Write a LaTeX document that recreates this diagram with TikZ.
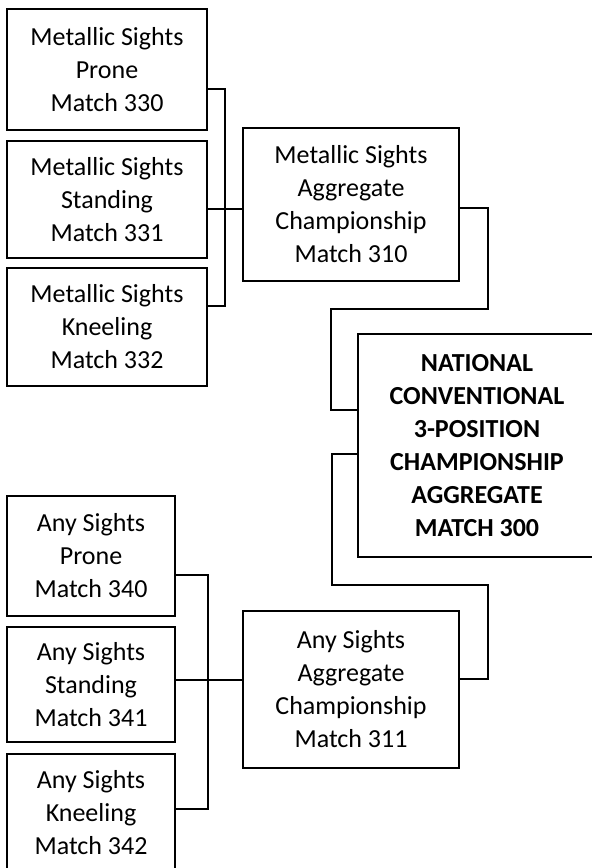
\documentclass[tikz,border=0pt]{standalone}
\usepackage{fontspec}
\setmainfont{Carlito}
\begin{document}
\begin{tikzpicture}[x=1pt,y=-1pt,
  box/.style={draw,line width=1.6pt,rectangle,inner sep=0pt,align=center,
    font=\fontsize{26}{33}\selectfont},
  boldbox/.style={box,font=\fontsize{26}{33}\selectfont\bfseries},
  conn/.style={line width=1.3pt}]
\useasboundingbox (0,0) rectangle (592,868);
% Metallic sights group
\node[box,minimum width=200,minimum height=121] (m330) at (107,69.5) {Metallic Sights\\Prone\\Match 330};
\node[box,minimum width=200,minimum height=117] (m331) at (107,199.5) {Metallic Sights\\Standing\\Match 331};
\node[box,minimum width=200,minimum height=118] (m332) at (107,327) {Metallic Sights\\Kneeling\\Match 332};
\node[box,minimum width=216,minimum height=153] (m310) at (351,204.5) {Metallic Sights\\Aggregate\\Championship\\Match 310};
% National
\node[boldbox,minimum width=238,minimum height=223] (m300) at (477,445.5) {NATIONAL\\CONVENTIONAL\\3-POSITION\\CHAMPIONSHIP\\AGGREGATE\\MATCH 300};
% Any sights group
\node[box,minimum width=168,minimum height=120] (m340) at (91,556) {Any Sights\\Prone\\Match 340};
\node[box,minimum width=168,minimum height=115] (m341) at (91,684.5) {Any Sights\\Standing\\Match 341};
\node[box,minimum width=168,minimum height=118] (m342) at (91,813) {Any Sights\\Kneeling\\Match 342};
\node[box,minimum width=216,minimum height=157] (m311) at (351,689.5) {Any Sights\\Aggregate\\Championship\\Match 311};
% connectors
\draw[conn] (m330.east |- 0,89) -- (225,89) -- (225,306) -- (m332.east |- 0,306);
\draw[conn] (m331.east |- 0,209) -- (m310.west |- 0,209);
\draw[conn] (m310.east |- 0,208) -- (488,208) -- (488,309) -- (331,309) -- (331,410) -- (m300.west |- 0,410);
\draw[conn] (m300.west |- 0,454) -- (332,454) -- (332,585) -- (488,585) -- (488,679) -- (m311.east |- 0,679);
\draw[conn] (m340.east |- 0,575) -- (208,575) -- (208,809) -- (m342.east |- 0,809);
\draw[conn] (m341.east |- 0,680) -- (m311.west |- 0,680);
\end{tikzpicture}
\end{document}
